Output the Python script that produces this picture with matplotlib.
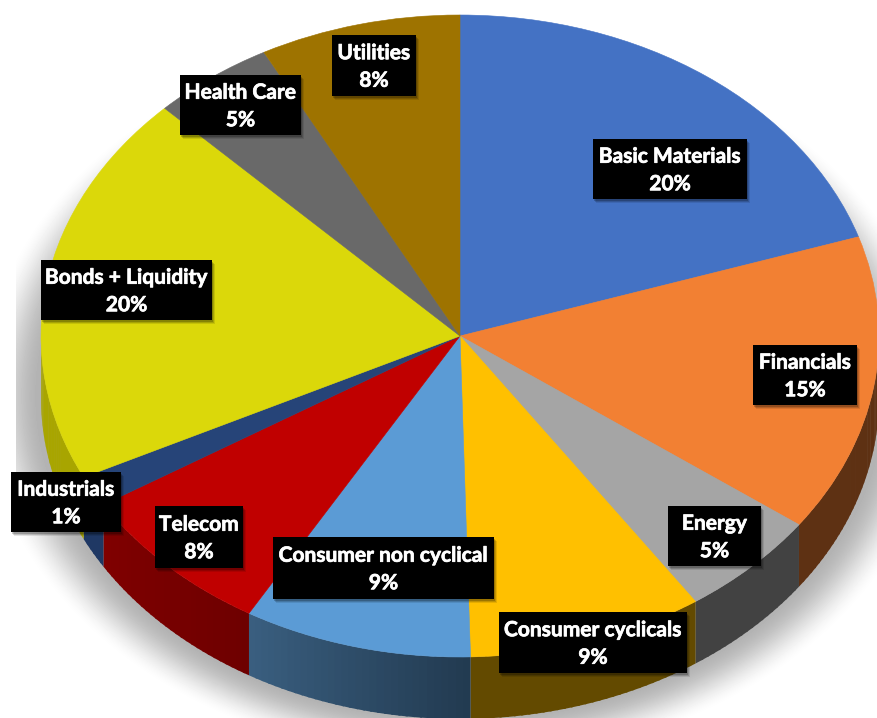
import numpy as np
import matplotlib.pyplot as plt
import matplotlib.patheffects as pe
from matplotlib.colors import to_rgb
from matplotlib.patches import Rectangle

# Sectors, clockwise from the top
sectors = ["Basic Materials", "Financials", "Energy", "Consumer cyclicals",
           "Consumer non cyclical", "Telecom", "Industrials",
           "Bonds + Liquidity", "Health Care", "Utilities"]
printed_pct = [20, 15, 5, 9, 9, 8, 1, 20, 5, 8]
# slice sizes as drawn in the picture (perspective makes them differ a bit from the printed %)
drawn_sizes = [20, 15, 5.5, 9.1, 8.8, 7.8, 1.55, 19.8, 4.7, 7.75]
top_colors = ["#4472c4", "#f28033", "#a5a5a5", "#ffc000", "#5b9bd5",
              "#c00000", "#264478", "#dbd80a", "#696969", "#9e7300"]
wall_from = ["#2a4578", "#5e3113", "#424242", "#634a00", "#223a50",
             "#6e0000", "#1f3864", "#a8a500", "#424242", "#634a00"]
wall_to = ["#2a4578", "#5e3113", "#424242", "#634a00", "#3a5f80",
           "#800000", "#1f3864", "#a8a500", "#424242", "#634a00"]

# x0, x1, y0, y1 of the label boxes in image pixels
label_boxes = [(593, 747, 139, 199), (753, 857, 345, 405), (668, 761, 506, 566),
               (499, 687, 612, 673), (273, 494, 537, 599), (155, 243, 506, 568),
               (11, 121, 472, 532), (41, 212, 260, 320), (180, 301, 75, 135),
               (332, 416, 35, 96)]

W, H = 877, 718
cx, cy = 460, 336
rx, ry = 419, 321
depth = 62 / ry

fig = plt.figure(figsize=(W / 100, H / 100), dpi=100, facecolor="white")

# soft shadow under the pie, on its own axes behind everything, in image pixels
bg = fig.add_axes([0, 0, 1, 1])
px, py = np.meshgrid(np.arange(W) + 0.5, np.arange(H) + 0.5)
r = np.hypot((px - cx) / rx, (py - (cy + 60)) / ry)
fade = np.clip((1.15 - r) / 0.15, 0, 1)
shade = 1 - 0.30 * (fade * fade * (3 - 2 * fade)) * (px >= 16)
bg.imshow(shade, extent=(0, W, H, 0), cmap="gray", vmin=0, vmax=1, aspect="auto",
          interpolation="nearest")
bg.axis("off")

ax = fig.add_axes([0, 0, 1, 1], facecolor="none")
wedges, _ = ax.pie(drawn_sizes, colors=top_colors, startangle=90, counterclock=False,
                   radius=1, wedgeprops=dict(linewidth=0.4, zorder=5))
for w, c in zip(wedges, top_colors):
    w.set_edgecolor(c)
ax.set_aspect("auto")
ax.set_xlim(-cx / rx, (W - cx) / rx)
ax.set_ylim(-(H - cy) / ry, cy / ry)
ax.axis("off")

# side wall of the front half, in thin strips so it can carry a gradient
start = 90.0
for size, c0, c1 in zip(drawn_sizes, wall_from, wall_to):
    end = start - size * 3.6
    lo, hi = max(end, -180), min(start, 0)
    if hi > lo:
        edges = np.linspace(lo, hi, int(hi - lo) + 2)
        for a, b in zip(edges[:-1], edges[1:]):
            mid = (0.5 * (a + b) - lo) / (hi - lo)
            col = np.array(to_rgb(c1)) * (1 - mid) + np.array(to_rgb(c0)) * mid
            t = np.radians(np.linspace(a, min(b + 0.3, hi), 6))
            xs = np.r_[np.cos(t), np.cos(t)[::-1]]
            ys = np.r_[np.sin(t), np.sin(t)[::-1] - depth]
            ax.fill(xs, ys, color=col, lw=0, zorder=3)
    start = end

# labels in image pixel coordinates
ov = fig.add_axes([0, 0, 1, 1], facecolor="none")
ov.set_xlim(0, W)
ov.set_ylim(H, 0)
ov.axis("off")
for name, pct, (x0, x1, y0, y1) in zip(sectors, printed_pct, label_boxes):
    for off, al in [(4, 0.10), (3, 0.15), (2, 0.2)]:
        ov.add_patch(Rectangle((x0 + off - 1, y0 + off), x1 - x0, y1 - y0,
                               fc="black", ec="none", alpha=al, zorder=6))
    ov.add_patch(Rectangle((x0, y0), x1 - x0, y1 - y0, fc="black", ec="none", zorder=7))
    ov.text((x0 + x1) / 2, (y0 + y1) / 2 + 1.5, f"{name}\n{pct}%", color="white",
            family="Lato", weight="bold", fontsize=15.1, ha="center", va="center",
            linespacing=1.47, zorder=8,
            path_effects=[pe.withStroke(linewidth=0.5, foreground="white")])

fig.savefig("out.png", dpi=100)
